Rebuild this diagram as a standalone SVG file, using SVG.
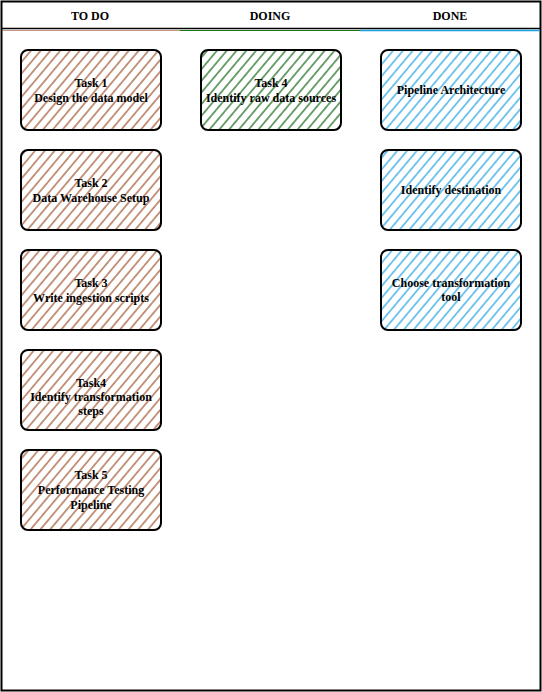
<svg xmlns="http://www.w3.org/2000/svg" width="542" height="692" viewBox="0 0 542 692">
<style>
.t{font-family:"Liberation Serif","Times New Roman",serif;font-size:12px;font-weight:bold;fill:#000;text-anchor:middle}
.card{stroke:#000;stroke-width:2}
</style>
<defs>
<pattern id="hb" patternUnits="userSpaceOnUse" width="7.5" height="8" patternTransform="rotate(40)"><line x1="3.75" y1="0" x2="3.75" y2="8" stroke="#a0522d" stroke-width="1.2"/></pattern>
<pattern id="hg" patternUnits="userSpaceOnUse" width="7.5" height="8" patternTransform="rotate(40)"><line x1="3.75" y1="0" x2="3.75" y2="8" stroke="#116611" stroke-width="1.2"/></pattern>
<pattern id="hl" patternUnits="userSpaceOnUse" width="7.5" height="8" patternTransform="rotate(40)"><line x1="3.75" y1="0" x2="3.75" y2="8" stroke="#1ba1e2" stroke-width="1.2"/></pattern>
</defs>
<rect width="542" height="692" fill="#fff"/>
<g id="board">
<rect x="1.5" y="1.5" width="539" height="689" fill="none" stroke="#000" stroke-width="2"/>
<line x1="1" y1="28.5" x2="541" y2="28.5" stroke="#000" stroke-width="1.5"/>
<line x1="2" y1="30.5" x2="180" y2="30.5" stroke="#a0522d" stroke-width="1.2" opacity="0.6"/>
<line x1="180" y1="30.5" x2="360" y2="30.5" stroke="#1c7a1c" stroke-width="1.2"/>
<line x1="360" y1="30.5" x2="540" y2="30.5" stroke="#1ba1e2" stroke-width="1.5"/>
<text class="t" x="90" y="20">TO DO</text>
<text class="t" x="270" y="20">DOING</text>
<text class="t" x="450" y="20">DONE</text>
</g>
<g id="connectors"></g>
<g id="task1"><rect class="card" x="21" y="50" width="140" height="80" rx="7" fill="url(#hb)"/><text class="t" x="91" y="87">Task 1</text><text class="t" x="91" y="102">Design the data model</text></g>
<g id="task2"><rect class="card" x="21" y="150" width="140" height="80" rx="7" fill="url(#hb)"/><text class="t" x="91" y="187">Task 2</text><text class="t" x="91" y="202">Data Warehouse Setup</text></g>
<g id="task3"><rect class="card" x="21" y="250" width="140" height="80" rx="7" fill="url(#hb)"/><text class="t" x="91" y="287">Task 3</text><text class="t" x="91" y="302">Write ingestion scripts</text></g>
<g id="task4b"><rect class="card" x="21" y="350" width="140" height="80" rx="7" fill="url(#hb)"/><text class="t" x="91" y="387">Task4</text><text class="t" x="91" y="401">Identify transformation</text><text class="t" x="91" y="415">steps</text></g>
<g id="task5"><rect class="card" x="21" y="450" width="140" height="80" rx="7" fill="url(#hb)"/><text class="t" x="91" y="479">Task 5</text><text class="t" x="91" y="494">Performance Testing</text><text class="t" x="91" y="509">Pipeline</text></g>
<g id="task4"><rect class="card" x="201" y="50" width="140" height="80" rx="7" fill="url(#hg)"/><text class="t" x="271" y="87">Task 4</text><text class="t" x="271" y="102">Identify raw data sources</text></g>
<g id="done1"><rect class="card" x="381" y="50" width="140" height="80" rx="7" fill="url(#hl)"/><text class="t" x="451" y="94">Pipeline Architecture</text></g>
<g id="done2"><rect class="card" x="381" y="150" width="140" height="80" rx="7" fill="url(#hl)"/><text class="t" x="451" y="194">Identify destination</text></g>
<g id="done3"><rect class="card" x="381" y="250" width="140" height="80" rx="7" fill="url(#hl)"/><text class="t" x="451" y="287">Choose transformation</text><text class="t" x="451" y="301">tool</text></g>
</svg>
